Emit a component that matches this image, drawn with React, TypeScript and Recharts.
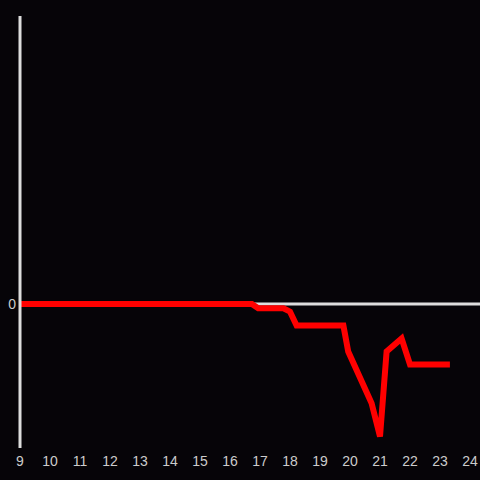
import React from "react";
import { LineChart, Line, XAxis, YAxis, ReferenceLine } from "recharts";

const times = [9, 16.73, 16.94, 17.78, 18.0, 18.22, 19.78, 19.94, 20.72, 21.0, 21.22, 21.72, 22.0, 23.33];
const values = [0, 0, -0.03, -0.03, -0.053, -0.15, -0.15, -0.33, -0.69, -0.92, -0.33, -0.24, -0.42, -0.42];
const xTicks = [9, 10, 11, 12, 13, 14, 15, 16, 17, 18, 19, 20, 21, 22, 23, 24];
const yTicks = [0];

const data = times.map((t, i) => ({ t, v: values[i] }));

export default function App() {
  return (
    <div style={{ position: "absolute", left: 0, top: 0, width: 480, height: 480, background: "#060408" }}>
      <LineChart width={480} height={480} data={data} margin={{ top: 16, right: 0, bottom: 0, left: 0 }}>
        <XAxis
          dataKey="t"
          type="number"
          domain={[9, 24.333]}
          ticks={xTicks}
          axisLine={false}
          tickLine={false}
          height={32}
          interval={0}
          tick={{ fill: "#cccccc", fontSize: 14, fontFamily: "Liberation Sans, Arial, sans-serif" }}
          allowDataOverflow
        />
        <YAxis
          type="number"
          domain={[-1, 2]}
          ticks={yTicks}
          width={20}
          axisLine={{ stroke: "#dddddd", strokeWidth: 3 }}
          tickLine={false}
          tickSize={4}
          tickMargin={0}
          tick={{ fill: "#cccccc", fontSize: 14, fontFamily: "Liberation Sans, Arial, sans-serif" }}
        />
        <ReferenceLine y={0} stroke="#dddddd" strokeWidth={3} />
        <Line
          dataKey="v"
          stroke="#ff0000"
          strokeWidth={6}
          dot={false}
          isAnimationActive={false}
          type="linear"
        />
      </LineChart>
    </div>
  );
}
